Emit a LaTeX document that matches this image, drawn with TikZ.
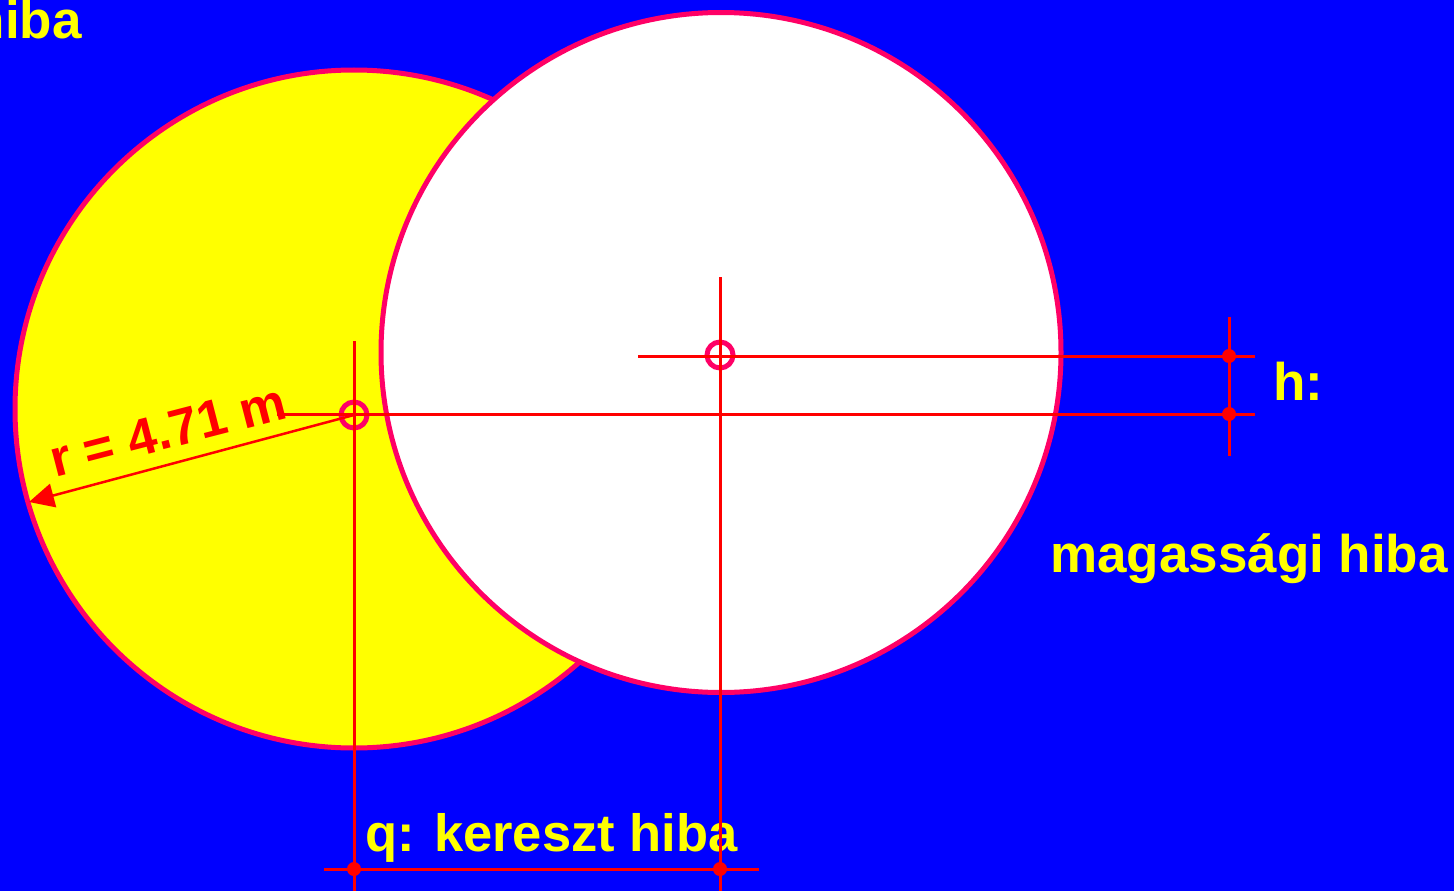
\documentclass[tikz,border=0pt]{standalone}
\usepackage{fontspec}
\setmainfont{Liberation Sans}
\usetikzlibrary{arrows.meta}
\definecolor{bgblue}{HTML}{0000FF}
\definecolor{rim}{HTML}{FF0066}
\definecolor{lnred}{HTML}{FF0000}
\definecolor{yel}{HTML}{FFFF00}
\begin{document}
\begin{tikzpicture}[x=1pt,y=-1pt,
  bigcirc/.style={circle,draw=rim,line width=5pt,inner sep=0pt},
  marker/.style={circle,draw=rim,line width=5pt,inner sep=0pt,minimum size=26pt},
  redline/.style={draw=lnred,line width=3pt},
  dotpt/.style={circle,fill=lnred,inner sep=0pt,minimum size=14pt},
  lbl/.style={text=yel,font=\fontsize{53}{60}\selectfont\bfseries,inner sep=0pt},
  rlbl/.style={text=lnred,font=\fontsize{52}{60}\selectfont\bfseries,inner sep=0pt}]
\fill[bgblue] (0,0) rectangle (1454,891);
\useasboundingbox (0,0) rectangle (1454,891);
\clip (0,0) rectangle (1454,891);
% circles
\node[bigcirc,fill=yel,minimum size=678pt] (Y) at (354,409) {};
\node[bigcirc,fill=white,minimum size=680pt] (W) at (721,352.5) {};
\node[marker] (mY) at (354,415) {};
\node[marker] (mW) at (720,355) {};
% texts
\node[lbl,anchor=base east] (t1) at (82,39) {hiba};
\node[lbl,anchor=base west] (t2) at (1273,400) {h:};
\node[lbl,anchor=base west] (t3) at (1050,572) {magassági hiba};
\node[lbl,anchor=base west,font=\fontsize{52.5}{60}\selectfont\bfseries] (t4) at (365,851) {q: kereszt hiba};
\node[rlbl,anchor=base west,rotate=14.5] (t5) at (55,478) {r = 4.71 m};
% coordinates
\coordinate (a1) at (354,341); \coordinate (a2) at (354,891);
\coordinate (b1) at (720,277); \coordinate (b2) at (720,891);
\coordinate (c1) at (277,414); \coordinate (c2) at (1255,414);
\coordinate (d1) at (638,356); \coordinate (d2) at (1255,356);
\coordinate (e1) at (1229,317); \coordinate (e2) at (1229,456);
\coordinate (f1) at (324,869); \coordinate (f2) at (759,869);
\coordinate (tip) at (29,502);
% lines
\draw[redline] (a1) -- (a2);
\draw[redline] (b1) -- (b2);
\draw[redline] (c1) -- (c2);
\draw[redline] (d1) -- (d2);
\draw[redline] (e1) -- (e2);
\draw[redline] (f1) -- (f2);
\draw[redline,line width=2.5pt,-{Triangle[length=25pt,width=24pt]}] (mY.center) -- (tip);
% dots
\node[dotpt] (p1) at (1229,356) {};
\node[dotpt] (p2) at (1229,414) {};
\node[dotpt] (p3) at (354,869) {};
\node[dotpt] (p4) at (720,869) {};
\end{tikzpicture}
\end{document}
